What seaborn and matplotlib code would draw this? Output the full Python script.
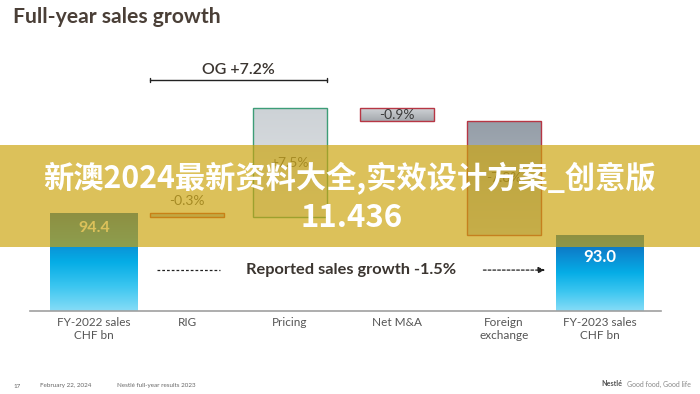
import numpy as np
import matplotlib
matplotlib.use("Agg")
import matplotlib.pyplot as plt
import matplotlib.transforms as mtransforms
from matplotlib.colors import LinearSegmentedColormap
from matplotlib.patches import Rectangle
import seaborn as sns

# ---------------- data ----------------
categories = ["FY-2022 sales\nCHF bn", "RIG", "Pricing", "Net M&A",
              "Foreign\nexchange", "FY-2023 sales\nCHF bn"]
start_sales = 94.4
end_sales = 93.0
step_pct = [-0.3, 7.5, -0.9, -7.8]
step_labels = ["-0.3%", "+7.5%", "-0.9%", "-7.8%"]
og_label = "OG +7.2%"
reported_label = "Reported sales growth -1.5%"
title_text = "Full-year sales growth"
overlay_lines = ["新澳2024最新资料大全,实效设计方案_创意版", "11.436"]
footer_texts = ["17", "February 22, 2024", "Nestlé full-year results 2023"]
brand_texts = ["Nestlé", "Good food, Good life"]

# ---------------- style / layout ----------------
sns.set_theme(style="white")
plt.rcParams['font.family'] = ['Lato', 'Noto Sans CJK SC', 'DejaVu Sans']

W, H = 700, 394
xpos = [0.0, 0.87, 1.83, 2.83, 3.83, 4.73]
end_width = 0.82
step_width = 0.69

fig = plt.figure(figsize=(7.0, 3.94), dpi=100)
fig.patch.set_facecolor("white")
ax_left, ax_right, ax_bot, ax_top = 30, 661, 311, 60
ax = fig.add_axes([ax_left / W, 1 - ax_bot / H, (ax_right - ax_left) / W, (ax_bot - ax_top) / H])
ax.set_facecolor("none")

ymin, ymax = 88.04, 104.33
xmin, xmax = -0.598, 5.30


def grad_bar(x, width, lo, hi, colors, edge=None, lw=1.0):
    bars = ax.bar([x], [hi - lo], width=width, bottom=[lo], facecolor="none",
                  edgecolor=edge if edge else "none", linewidth=lw, zorder=3)
    patch = bars.patches[0]
    cmap = LinearSegmentedColormap.from_list("g", colors)
    grad = np.linspace(0, 1, 256).reshape(-1, 1)
    im = ax.imshow(grad, extent=[x - width / 2, x + width / 2, lo, hi], origin="upper",
                   aspect="auto", cmap=cmap, zorder=2, interpolation="bicubic")
    im.set_clip_path(patch)
    return patch


blue = ["#0a66b3", "#0c86cf", "#05ade6", "#3cc6f0", "#86dcf7"]

# endpoint bars
grad_bar(xpos[0], end_width, ymin, start_sales, blue)
grad_bar(xpos[5], end_width, ymin, end_sales, blue)

# floating step bars
cum = np.cumsum(step_pct)
levels = [start_sales] + list(start_sales * (1 + cum / 100))
step_styles = [
    (["#b9bec3", "#a9aeb3"], "#c0392b"),
    (["#cdd2d6", "#e0e3e6"], "#3d9d77"),
    (["#d3d6d9", "#a4a9ae"], "#b73644"),
    (["#959ea8", "#bcc2c8"], "#b73644"),
]
label_colors = ["#555555", "#555555", "#3a3a3a", "#4a4a4a"]
for i, p in enumerate(step_pct):
    lo, hi = sorted([levels[i], levels[i + 1]])
    cols, edge = step_styles[i]
    grad_bar(xpos[i + 1], step_width, lo, hi, cols, edge=edge, lw=1.0)
    if i == 0:
        ax.annotate(step_labels[i], (xpos[i + 1], hi), xytext=(0, 4), textcoords="offset points",
                    ha="center", va="bottom", fontsize=10, color=label_colors[i], zorder=5)
    else:
        ax.text(xpos[i + 1], (lo + hi) / 2, step_labels[i], ha="center", va="center",
                fontsize=10, color=label_colors[i], zorder=5)

# endpoint value labels
ax.annotate(f"{start_sales:.1f}", (xpos[0], start_sales), xytext=(0, -11), textcoords="offset points",
            ha="center", va="center", fontsize=11.5, fontweight="bold", color="white", zorder=5)
ax.annotate(f"{end_sales:.1f}", (xpos[5], end_sales), xytext=(0, -16.5), textcoords="offset points",
            ha="center", va="center", fontsize=12, fontweight="bold", color="white", zorder=5)

trans = mtransforms.blended_transform_factory(ax.transData, ax.transAxes)

# OG bracket
og_x0 = xpos[1] - step_width / 2
og_x1 = xpos[2] + step_width / 2
ax.plot([og_x0, og_x1], [0.920, 0.920], transform=trans, color="#222222", lw=1.0, clip_on=False)
for xx in (og_x0, og_x1):
    ax.plot([xx, xx], [0.912, 0.928], transform=trans, color="#222222", lw=1.0, clip_on=False)
ax.text((og_x0 + og_x1) / 2, 0.960, og_label, transform=trans, ha="center", va="center",
        fontsize=11.5, color="#3b3530", fontweight="semibold")

# Reported sales growth
ax.plot([0.59, 1.18], [0.163, 0.163], transform=trans, color="#222222", lw=0.9,
        linestyle=(0, (2.2, 1.6)))
ax.text(1.42, 0.163, reported_label, transform=trans, ha="left", va="center",
        fontsize=11.8, color="#3b3530", fontweight="bold")
ax.annotate("", xy=(4.22, 0.163), xytext=(3.64, 0.163), xycoords=trans, textcoords=trans,
            arrowprops=dict(arrowstyle="-|>,head_length=0.35,head_width=0.15", color="#222222",
                            lw=0.9, linestyle=(0, (2.2, 1.6)), shrinkA=0, shrinkB=0))

# axes formatting
ax.set_xlim(xmin, xmax)
ax.set_ylim(ymin, ymax)
ax.set_xticks(xpos)
ax.set_xticklabels(categories, fontsize=8.5, color="#555555", linespacing=1.3)
ax.tick_params(axis="x", length=0, pad=4)
ax.set_yticks([])
for s in ["left", "top", "right"]:
    ax.spines[s].set_visible(False)
ax.spines["bottom"].set_color("#a0a0a0")
ax.spines["bottom"].set_linewidth(1.2)
ax.grid(False)

# title
fig.text(13 / W, 1 - 17 / H, title_text, ha="left", va="center", fontsize=15.2,
         fontweight="bold", color="#4a3f37")

# footer
fig.text(13 / W, 1 - 386 / H, footer_texts[0], fontsize=4.5, color="#666666", va="center")
fig.text(40 / W, 1 - 386 / H, footer_texts[1], fontsize=4.5, color="#666666", va="center")
fig.text(117 / W, 1 - 386 / H, footer_texts[2], fontsize=4.5, color="#666666", va="center")
fig.text(601 / W, 1 - 384 / H, brand_texts[0], fontsize=5.2, color="#555555", fontweight="bold", va="center")
fig.text(627 / W, 1 - 384 / H, brand_texts[1], fontsize=5.0, color="#8a8a8a", va="center")

# overlay banner
ov = fig.add_axes([0, 0, 1, 1], zorder=10)
ov.set_xlim(0, W)
ov.set_ylim(H, 0)
ov.axis("off")
ov.add_patch(Rectangle((0, 145), W, 102, facecolor="#cca40c", alpha=0.68, edgecolor="none"))
ov.text(350, 179, overlay_lines[0], ha="center", va="center", fontsize=21.8, fontweight="bold",
        color="white", family=['Noto Sans CJK SC', 'DejaVu Sans'])
ov.text(352, 218, overlay_lines[1], ha="center", va="center", fontsize=22.5, fontweight="bold",
        color="white", family=['Noto Sans CJK SC', 'DejaVu Sans'])

fig.savefig("out.png", dpi=100)
